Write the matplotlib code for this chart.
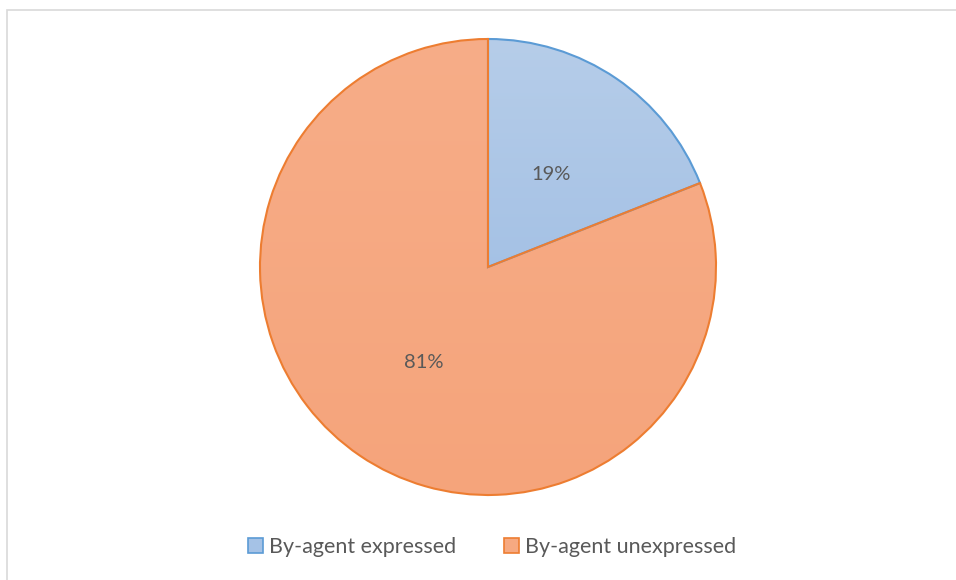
import numpy as np
import matplotlib
matplotlib.use("Agg")
import matplotlib.pyplot as plt
from matplotlib.patches import Patch, Rectangle, Wedge
from matplotlib.colors import LinearSegmentedColormap

categories = ["By-agent expressed", "By-agent unexpressed"]
values = [19, 81]
labels = ["19%", "81%"]

plt.rcParams['font.family'] = ['Lato', 'DejaVu Sans']

W, H = 956, 580
fig = plt.figure(figsize=(W / 100, H / 100), dpi=100)
ax = fig.add_axes([0, 0, 1, 1])

cx, cy, r = 488, H - 267, 228
edge_colors = ["#5b9bd5", "#ed7d31"]
grad = [("#b6cde9", "#94b6e1"), ("#f7ad88", "#f5a47b")]
fills = ["#a5c2e6", "#f6a981"]

wedges, texts = ax.pie(values, center=(cx, cy), radius=r, startangle=90,
                       counterclock=False, colors=fills,
                       wedgeprops=dict(edgecolor="none", linewidth=0),
                       frame=True)
ax.set_xlim(0, W)
ax.set_ylim(0, H)
ax.set_axis_off()

gradient = np.linspace(0, 1, 256).reshape(-1, 1)
for w, (c0, c1) in zip(wedges, grad):
    cmap = LinearSegmentedColormap.from_list("g", [c1, c0])
    im = ax.imshow(gradient, cmap=cmap, extent=[cx - r, cx + r, cy - r, cy + r],
                   origin="lower", aspect="auto", zorder=1.5)
    im.set_clip_path(w)
for w, ec in zip(wedges, edge_colors):
    w.set_zorder(1)
    ol = Wedge(w.center, w.r, w.theta1, w.theta2, facecolor="none",
               edgecolor=ec, linewidth=1.5, zorder=3)
    ax.add_patch(ol)

# percentage labels
label_pos = [(551, 174), (424, 362)]
for (lx, ly), t in zip(label_pos, labels):
    ax.text(lx, H - ly, t, ha="center", va="center", fontsize=14.5, color="#595959", zorder=4)

# chart border
ax.add_patch(Rectangle((7.5, -20), W + 20, H - 9.5 + 20, facecolor="none",
                       edgecolor="#d9d9d9", linewidth=1.2, zorder=0))

handles = [Patch(facecolor=f, edgecolor=e, linewidth=1.2) for f, e in zip(fills, edge_colors)]
fig.legend(handles, categories, loc="center", bbox_to_anchor=(492 / W, 1 - 547 / H),
           ncol=2, frameon=False, fontsize=15.5, labelcolor="#595959",
           handlelength=0.7, handleheight=0.7, handletextpad=0.3, columnspacing=2.2)

fig.savefig("out.png", dpi=100)
